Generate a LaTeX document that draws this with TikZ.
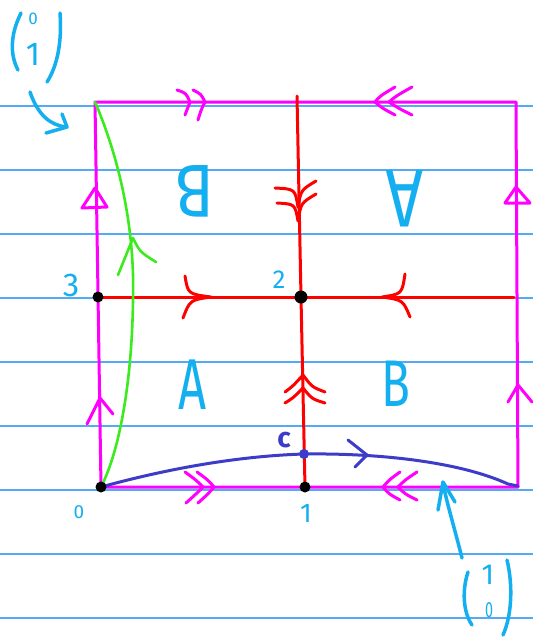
\documentclass[tikz,border=0pt]{standalone}
\usepackage{fontspec}
\setmainfont{Fira Sans}
\usepackage{graphicx}
\definecolor{rulec}{RGB}{85,170,245}
\definecolor{magc}{RGB}{255,0,255}
\definecolor{redc}{RGB}{255,0,0}
\definecolor{grnc}{RGB}{60,235,30}
\definecolor{indc}{RGB}{60,60,200}
\definecolor{cyc}{RGB}{20,175,240}
\begin{document}
\begin{tikzpicture}[x=1pt,y=-1pt,
 rule/.style={draw=rulec,line width=1.3pt},
 mag/.style={draw=magc,line width=3pt,line cap=round,line join=round},
 redl/.style={draw=redc,line width=3pt,line cap=round,line join=round},
 grn/.style={draw=grnc,line width=2.6pt,line cap=round,line join=round},
 ind/.style={draw=indc,line width=3pt,line cap=round,line join=round},
 cyl/.style={draw=cyc,line width=3.5pt,line cap=round,line join=round},
 dot/.style={circle,fill=black,inner sep=0pt,minimum size=11pt},
 cdot/.style={circle,fill=indc,inner sep=0pt,minimum size=10pt},
 lbl/.style={text=cyc,inner sep=0pt},
]
\useasboundingbox (0,0) rectangle (533,641);
\fill[white] (0,0) rectangle (533,641);
\foreach \yy in {106,170,...,618} \draw[rule] (0,\yy) -- (533,\yy);

% vertices
\coordinate (tl) at (95,102);
\coordinate (tm) at (297,96);
\coordinate (tr) at (516,102);
\coordinate (br) at (518,487);
\coordinate (p0) at (101,487);
\coordinate (p1) at (305,487);
\coordinate (p2) at (301,297);
\coordinate (p3) at (98,297);
\coordinate (re) at (514,297);
\coordinate (c) at (304,454);

% magenta square
\draw[mag] (tl) -- (tr) -- (br) -- (p0) -- cycle;
% magenta arrows
\draw[mag] (177,90) .. controls (186,93) .. (190,102) .. controls (187,108) .. (185,115);
\draw[mag] (193,90) .. controls (201,94) .. (205,102) .. controls (201,110) .. (198,120);
\draw[mag] (395,87) .. controls (380,96) .. (375,102) .. controls (382,108) .. (395,115);
\draw[mag] (412,87) .. controls (396,96) .. (389,102) .. controls (398,108) .. (412,115);
\draw[mag] (185,472) .. controls (196,480) .. (203,487) .. controls (196,494) .. (186,503);
\draw[mag] (197,472) .. controls (208,480) .. (214,487) .. controls (208,494) .. (198,503);
\draw[mag] (400,472) .. controls (389,480) .. (383,487) .. controls (389,494) .. (400,500);
\draw[mag] (417,472) .. controls (405,480) .. (398,487) .. controls (405,494) .. (417,500);
\draw[mag] (82,208) -- (95,188) -- (107,207) -- cycle;
\draw[mag] (505,203) -- (516,187) -- (530,203) -- cycle;
\draw[mag] (87,424) -- (100,398) -- (113,414);
\draw[mag] (508,402) -- (518,385) -- (532,402);

% red lines
\draw[redl] (p3) -- (p2) -- (re);
\draw[redl] (tm) -- (p2) -- (p1);
\draw[redl] (185,276) .. controls (188,294) .. (211,297) .. controls (190,300) .. (183,318);
\draw[redl] (405,274) .. controls (402,294) .. (382,297) .. controls (403,300) .. (410,317);
\draw[redl] (275,188) .. controls (295,189) .. (298,207) .. controls (301,190) .. (316,181);
\draw[redl] (277,203) .. controls (295,204) .. (298,221) .. controls (301,203) .. (316,194);
\draw[redl] (285,392) .. controls (293,386) .. (303,375) .. controls (312,387) .. (325,392);
\draw[redl] (285,403) .. controls (293,398) .. (303,388) .. controls (312,399) .. (325,403);

% green curve
\draw[grn] (tl) .. controls (120,160) and (135,230) .. (133,300) .. controls (132,380) and (120,450) .. (p0);
\draw[grn] (118,275) -- (133,238) .. controls (140,252) .. (156,262);

% blue curve
\draw[ind] (p0) .. controls (170,468) and (240,456) .. (c) .. controls (380,453) and (460,462) .. (508,484) -- (518,486);
\draw[ind] (348,440) .. controls (358,448) .. (367,455) -- (355,467);

% dots
\node[dot] (d0) at (p0) {};
\node[dot] (d1) at (p1) {};
\node[dot,minimum size=13pt] (d2) at (p2) {};
\node[dot] (d3) at (p3) {};
\node[cdot] (dc) at (c) {};

% labels
\node[lbl,font=\fontsize{33}{36}\selectfont] (l3) at (71,285) {3};
\node[lbl,font=\fontsize{26}{28}\selectfont] (l2) at (279,280) {2};
\node[lbl,font=\fontsize{19}{21}\selectfont] (l0) at (79,512) {0};
\node[lbl,font=\fontsize{27}{29}\selectfont] (l1) at (306,513) {1};
\node[text=indc,inner sep=0pt,font=\fontsize{28}{30}\selectfont\bfseries] (lc) at (284,440) {c};
\node[lbl,font=\fontsize{72}{76}\selectfont] (lA) at (193,385) {\scalebox{0.68}[1]{A}};
\node[lbl,font=\fontsize{66}{70}\selectfont] (lB) at (396,384) {\scalebox{0.72}[1]{B}};
\node[lbl,font=\fontsize{75}{80}\selectfont,rotate=180] (lBr) at (195,191) {\scalebox{0.85}[1]{B}};
\node[lbl,font=\fontsize{82}{86}\selectfont,rotate=180] (lAr) at (405,199) {\scalebox{0.8}[1]{A}};

% vector (0 1)
\draw[cyl] (21,13) .. controls (10,35) and (10,55) .. (18,70);
\draw[cyl] (60,13) .. controls (62,40) and (58,65) .. (47,82);
\node[lbl,font=\fontsize{17}{19}\selectfont] (v01a) at (33,19) {0};
\node[lbl,font=\fontsize{33}{36}\selectfont] (v01b) at (33,54) {1};
\coordinate (a1s) at (30,92);
\coordinate (a1e) at (66,127);
\draw[cyl] (a1s) .. controls (38,115) and (50,125) .. (a1e);
\draw[cyl] (62,114) -- (67,127) -- (46,133);

% vector (1 0)
\draw[cyl] (468,572) .. controls (462,590) and (463,612) .. (472,625);
\draw[cyl] (507,560) .. controls (513,585) and (512,615) .. (503,635);
\node[lbl,font=\fontsize{29}{31}\selectfont] (v10a) at (488,575) {1};
\node[lbl,font=\fontsize{22}{24}\selectfont] (v10b) at (489,610) {\scalebox{0.65}[1]{0}};
\coordinate (a2s) at (462,558);
\coordinate (a2e) at (443,483);
\draw[cyl] (a2s) .. controls (455,530) and (446,500) .. (a2e);
\draw[cyl] (438,510) -- (443,482) -- (455,502);
\end{tikzpicture}
\end{document}
